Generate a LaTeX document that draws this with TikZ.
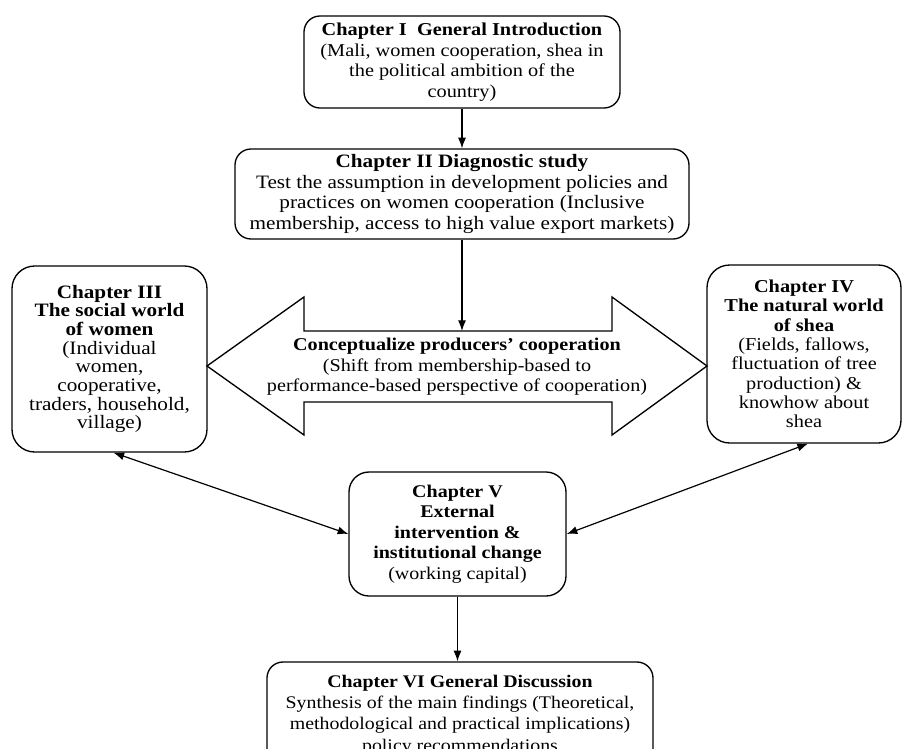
\documentclass[tikz,border=0pt]{standalone}
\usepackage{fontspec}
\setmainfont{Liberation Serif}[FakeStretch=1.12]
\usetikzlibrary{arrows.meta}
\newcommand\fsz[2]{\fontsize{#1}{#2}\selectfont}
\begin{document}
\begin{tikzpicture}[x=0.75pt,y=-0.75pt,
  box/.style={draw, line width=1pt, rounded corners=12pt, align=center, inner sep=2pt},
  bigbox/.style={box, rounded corners=17pt},
  arr/.style={-{Latex[length=8pt,width=6pt]}, line width=0.9pt},
  darr/.style={{Latex[length=8pt,width=6pt]}-{Latex[length=8pt,width=6pt]}, line width=0.9pt}]
\clip (0,0) rectangle (903,749);
\fill[white] (0,0) rectangle (903,749);

% Chapter I
\node[box, minimum width=237pt, minimum height=69pt, font=\fsz{13.6}{15.5}] (c1) at (462,62)
  {\textbf{Chapter I\ \ General Introduction}\\(Mali, women cooperation, shea in\\the political ambition of the\\country)};

% Chapter II
\node[box, minimum width=340.5pt, minimum height=67.5pt, font=\fsz{14.2}{15.5}] (c2) at (462,194)
  {\textbf{Chapter II Diagnostic study}\\Test the assumption in development policies and\\practices on women cooperation (Inclusive\\membership, access to high value export markets)};

% Chapter III
\node[bigbox, minimum width=146.25pt, minimum height=139.5pt, font=\fsz{14.2}{14}] (c3) at (109.5,359)
  {\textbf{Chapter III}\\\textbf{The social world}\\\textbf{of women}\\(Individual\\women,\\cooperative,\\traders, household,\\village)};

% Chapter IV
\node[bigbox, minimum width=145.5pt, minimum height=133.5pt, font=\fsz{13.6}{14.5}] (c4) at (804,354)
  {\textbf{Chapter IV}\\\textbf{The natural world}\\\textbf{of shea}\\(Fields, fallows,\\fluctuation of tree\\production) \&\\knowhow about\\shea};

% Double arrow (conceptualize)
\draw[line width=1pt, line join=miter] (207,366) -- (304,297) -- (304,331) -- (612,331) -- (612,297) -- (707,366)
  -- (612,435) -- (612,402) -- (304,402) -- (304,435) -- cycle;
\coordinate (shafttop) at (462,331);
\node[align=center, inner sep=0pt, font=\fsz{13.5}{15.4}] (mid) at (457,367)
  {\textbf{Conceptualize producers’ cooperation}\\(Shift from membership-based to\\performance-based perspective of cooperation)};

% Chapter V
\node[box, rounded corners=15pt, minimum width=162.75pt, minimum height=93pt, font=\fsz{13.4}{15.4}] (c5) at (457.5,534)
  {\textbf{Chapter V}\\\textbf{External}\\\textbf{intervention \&}\\\textbf{institutional change}\\(working capital)};

% Chapter VI
\node[box, minimum width=289.5pt, minimum height=79.5pt, font=\fsz{13.3}{16}] (c6) at (460,715)
  {\textbf{Chapter VI General Discussion}\\Synthesis of the main findings (Theoretical,\\methodological and practical implications)\\policy recommendations};

% Connectors
\draw[arr] (c1.south) -- (c2.north);
\draw[arr] (c2.south) -- (shafttop);
\draw[darr] ([xshift=3pt]c3.south) -- (c5.west);
\draw[darr] ([xshift=3pt]c4.south) -- (c5.east);
\draw[arr] (c5.south) -- (c5.south |- c6.north);
\end{tikzpicture}
\end{document}
